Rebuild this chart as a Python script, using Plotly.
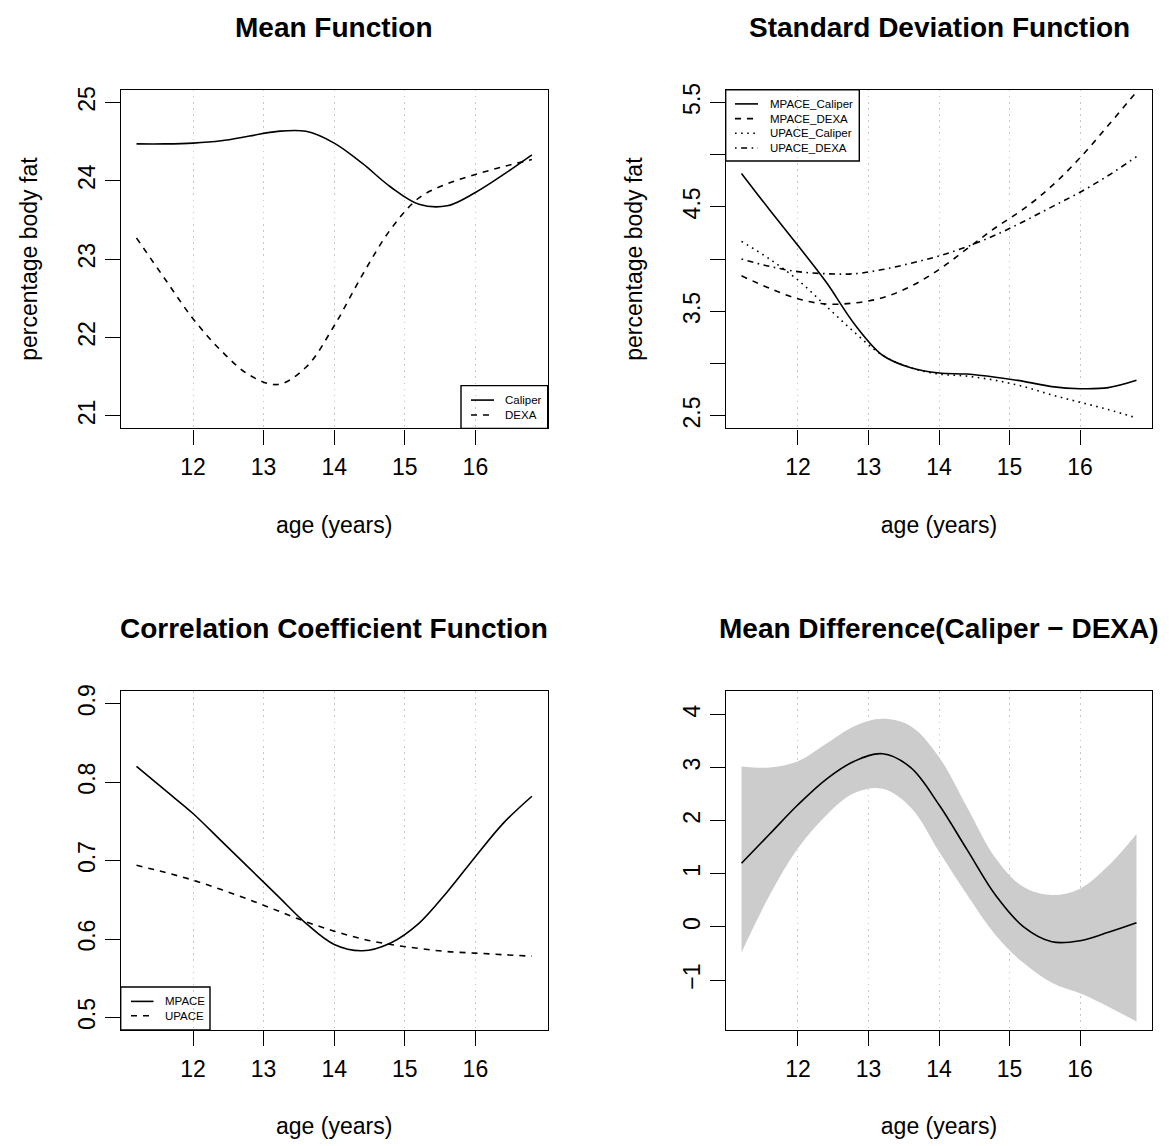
import plotly.graph_objects as go

# ---------------- data ----------------
age = [11.2, 11.6, 12.0, 12.4, 12.8, 13.2, 13.6, 14.0, 14.4, 14.8, 15.2, 15.6, 16.0, 16.4, 16.8]

mean_caliper = [24.47, 24.47, 24.48, 24.51, 24.57, 24.63, 24.63, 24.48, 24.22, 23.92, 23.70, 23.68, 23.85, 24.08, 24.33]
mean_dexa    = [23.27, 22.75, 22.24, 21.83, 21.52, 21.40, 21.62, 22.15, 22.80, 23.38, 23.78, 23.96, 24.08, 24.18, 24.27]

sd_mpace_caliper = [4.82, 4.47, 4.13, 3.78, 3.38, 3.08, 2.96, 2.91, 2.90, 2.87, 2.83, 2.78, 2.76, 2.77, 2.84]
sd_mpace_dexa    = [3.84, 3.72, 3.62, 3.57, 3.58, 3.63, 3.74, 3.90, 4.10, 4.30, 4.48, 4.70, 4.97, 5.28, 5.60]
sd_upace_caliper = [4.17, 4.00, 3.80, 3.55, 3.30, 3.08, 2.96, 2.90, 2.88, 2.84, 2.78, 2.70, 2.63, 2.56, 2.48]
sd_upace_dexa    = [4.00, 3.93, 3.88, 3.86, 3.86, 3.90, 3.96, 4.03, 4.12, 4.23, 4.36, 4.50, 4.64, 4.80, 4.98]

corr_mpace = [0.820, 0.790, 0.760, 0.725, 0.690, 0.655, 0.620, 0.593, 0.585, 0.595, 0.620, 0.660, 0.705, 0.748, 0.782]
corr_upace = [0.694, 0.685, 0.675, 0.663, 0.650, 0.636, 0.622, 0.610, 0.600, 0.593, 0.588, 0.584, 0.582, 0.580, 0.578]

diff_mean  = [1.20, 1.75, 2.30, 2.78, 3.12, 3.26, 3.00, 2.30, 1.45, 0.60, 0.00, -0.28, -0.26, -0.10, 0.08]
diff_upper = [3.02, 3.00, 3.12, 3.45, 3.78, 3.92, 3.78, 3.20, 2.25, 1.30, 0.75, 0.60, 0.72, 1.15, 1.75]
diff_lower = [-0.48, 0.60, 1.48, 2.10, 2.52, 2.60, 2.25, 1.42, 0.60, -0.15, -0.68, -1.05, -1.25, -1.50, -1.78]

x_ticks = [12, 13, 14, 15, 16]
y1_ticks = [21, 22, 23, 24, 25]
y2_ticks = [2.5, 3.0, 3.5, 4.0, 4.5, 5.0, 5.5]
y2_labels = ["2.5", "", "3.5", "", "4.5", "", "5.5"]
y3_ticks = [0.5, 0.6, 0.7, 0.8, 0.9]
y4_ticks = [-1, 0, 1, 2, 3, 4]
y4_labels = ["\u22121", "0", "1", "2", "3", "4"]

titles = ["Mean Function", "Standard Deviation Function",
          "Correlation Coefficient Function", "Mean Difference(Caliper \u2212 DEXA)"]
legend1_labels = ["Caliper", "DEXA"]
legend2_labels = ["MPACE_Caliper", "MPACE_DEXA", "UPACE_Caliper", "UPACE_DEXA"]
legend3_labels = ["MPACE", "UPACE"]

# ---------------- styling ----------------
W, H = 1169, 1146
FONT = "Liberation Sans, Arial, Helvetica, sans-serif"
LW = 1.6
SOLID = "solid"
DASH = "6px,6px"
DOT = "1.6px,4.5px"
DOTDASH = "1.6px,4.5px,6px,4.5px"

def px_x(p):
    return p / W

def px_y(p):
    return 1 - p / H

box_x = [(120.7, 547.7), (725.7, 1152.3)]
box_y = [(83.3, 424.0), (688.3, 1029.3)]

fig = go.Figure()

def line(x, y, name, dash, ax):
    fig.add_trace(go.Scatter(
        x=x, y=y, mode="lines", name=name,
        line=dict(color="black", width=LW, dash=dash, shape="spline", smoothing=1.0),
        xaxis="x" + ax, yaxis="y" + ax, showlegend=False, hoverinfo="skip"))

# panel 1
line(age, mean_caliper, legend1_labels[0], SOLID, "")
line(age, mean_dexa, legend1_labels[1], DASH, "")
# panel 2
line(age, sd_mpace_caliper, legend2_labels[0], SOLID, "2")
line(age, sd_mpace_dexa, legend2_labels[1], DASH, "2")
line(age, sd_upace_caliper, legend2_labels[2], DOT, "2")
line(age, sd_upace_dexa, legend2_labels[3], DOTDASH, "2")
# panel 3
line(age, corr_mpace, legend3_labels[0], SOLID, "3")
line(age, corr_upace, legend3_labels[1], DASH, "3")
# panel 4: confidence band then mean difference
fig.add_trace(go.Scatter(
    x=age, y=diff_lower, mode="lines", line=dict(width=0, color="#CCCCCC", shape="spline"),
    xaxis="x4", yaxis="y4", showlegend=False, hoverinfo="skip", name="lower"))
fig.add_trace(go.Scatter(
    x=age, y=diff_upper, mode="lines", fill="tonexty", fillcolor="#CCCCCC",
    line=dict(width=0, color="#CCCCCC", shape="spline"),
    xaxis="x4", yaxis="y4", showlegend=False, hoverinfo="skip", name="upper"))
line(age, diff_mean, "mean difference", SOLID, "4")

tickfont = dict(family=FONT, size=23, color="black")

def xaxis(i):
    c = i % 2
    return dict(
        domain=[px_x(box_x[c][0]), px_x(box_x[c][1])],
        anchor="y" + ("" if i == 0 else str(i + 1)),
        range=[10.976, 17.024], tickvals=x_ticks, ticktext=[str(t) for t in x_ticks],
        ticks="outside", ticklen=15, tickwidth=1.4, tickcolor="black",
        showline=True, mirror=True, linecolor="black", linewidth=1.4,
        showgrid=True, gridcolor="#C8C8C8", griddash="1.6px,4.5px", gridwidth=1.4,
        zeroline=False, tickfont=tickfont, ticklabelstandoff=3,
        title=dict(text="age (years)", font=dict(family=FONT, size=23, color="black"), standoff=37),
        fixedrange=True)

def yaxis(i, rng, vals, labels, title=None):
    r = i // 2
    d = dict(
        domain=[px_y(box_y[r][1]), px_y(box_y[r][0])],
        anchor="x" + ("" if i == 0 else str(i + 1)),
        range=rng, tickvals=vals, ticktext=labels, tickangle=-90,
        ticks="outside", ticklen=15, tickwidth=1.4, tickcolor="black",
        showline=True, mirror=True, linecolor="black", linewidth=1.4,
        showgrid=False, zeroline=False, tickfont=tickfont, ticklabelstandoff=0,
        fixedrange=True)
    if title:
        d["title"] = dict(text=title, font=dict(family=FONT, size=23, color="black"), standoff=30)
    return d

annotations = []
shapes = []
for i, t in enumerate(titles):
    c, r = i % 2, i // 2
    annotations.append(dict(
        text="<b>" + t + "</b>", x=px_x((box_x[c][0] + box_x[c][1]) / 2), y=px_y(box_y[r][0] - 63),
        xref="paper", yref="paper", showarrow=False, xanchor="center", yanchor="middle",
        font=dict(family=FONT, size=28, color="black")))

# legends (R-style boxes with line samples)
def legend(box, sample_x, text_x, rows, labels, dashes):
    x0, y0, x1, y1 = box
    shapes.append(dict(type="rect", xref="paper", yref="paper",
                       x0=px_x(x0), x1=px_x(x1), y0=px_y(y1), y1=px_y(y0),
                       line=dict(color="black", width=1.4), fillcolor="rgba(0,0,0,0)", layer="above"))
    for ry, lab, dsh in zip(rows, labels, dashes):
        shapes.append(dict(type="line", xref="paper", yref="paper",
                           x0=px_x(sample_x[0]), x1=px_x(sample_x[1]), y0=px_y(ry), y1=px_y(ry),
                           line=dict(color="black", width=LW, dash=dsh), layer="above"))
        annotations.append(dict(text=lab, x=px_x(text_x), y=px_y(ry), xref="paper", yref="paper",
                                showarrow=False, xanchor="left", yanchor="middle",
                                font=dict(family=FONT, size=11.5, color="black")))

legend((461.0, 381.0, 547.7, 424.0), (471.0, 494.0), 503.0, [395.5, 410.5],
       legend1_labels, [SOLID, DASH])
legend((725.7, 83.3, 859.3, 155.0), (735.0, 758.0), 768.0, [97.5, 112.3, 127.1, 141.9],
       legend2_labels, [SOLID, DASH, DOT, DOTDASH])
legend((120.7, 986.0, 210.0, 1029.3), (131.0, 153.5), 162.5, [1000.5, 1015.0],
       legend3_labels, [SOLID, DASH])

fig.update_layout(
    width=W, height=H, margin=dict(l=0, r=0, t=0, b=0),
    paper_bgcolor="white", plot_bgcolor="white",
    font=dict(family=FONT, color="black"),
    xaxis=xaxis(0), xaxis2=xaxis(1), xaxis3=xaxis(2), xaxis4=xaxis(3),
    yaxis=yaxis(0, [20.84, 25.16], y1_ticks, [str(v) for v in y1_ticks], "percentage body fat"),
    yaxis2=yaxis(1, [2.38, 5.62], y2_ticks, y2_labels, "percentage body fat"),
    yaxis3=yaxis(2, [0.484, 0.916], y3_ticks, [str(v) for v in y3_ticks]),
    yaxis4=yaxis(3, [-1.94, 4.44], y4_ticks, y4_labels),
    annotations=annotations, shapes=shapes,
    showlegend=False,
)

fig.write_html("out.html")
